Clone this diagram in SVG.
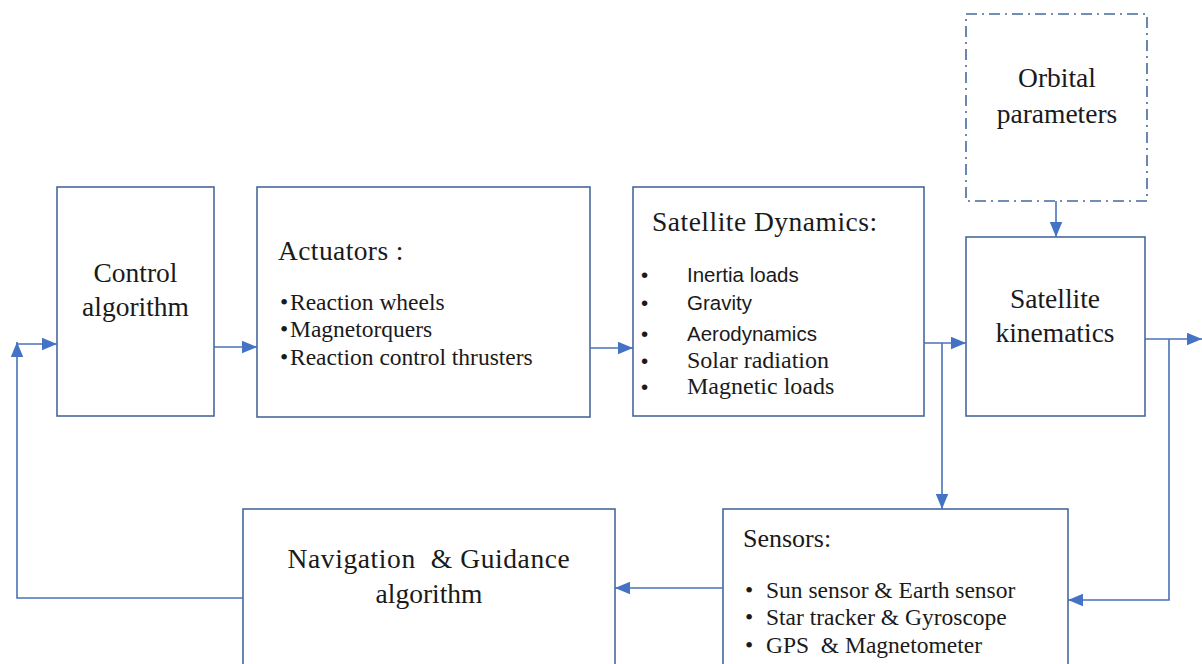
<svg xmlns="http://www.w3.org/2000/svg" width="1202" height="664" viewBox="0 0 1202 664">
<style>
.box{fill:#fff;stroke:#46699c;stroke-width:1.6}
.dash{fill:#fff;stroke:#46699c;stroke-width:1.6;stroke-dasharray:11 5 2 5}
.ln{fill:none;stroke:#4a72b8;stroke-width:1.6}
.t{font-family:"Liberation Serif","Times New Roman",serif;fill:#1a1a1a;white-space:pre}
.big{font-size:27.5px}
.mid{font-size:23.5px}
.sans{font-family:"Liberation Sans",Arial,sans-serif;font-size:20.5px;fill:#1a1a1a}
.c{text-anchor:middle}
</style>
<defs>
<marker id="ah" viewBox="0 0 12 10" refX="12" refY="5" markerWidth="15" markerHeight="13" markerUnits="userSpaceOnUse" orient="auto">
<path d="M0,0 L12,5 L0,10 z" fill="#4472c4"/>
</marker>
</defs>
<rect width="1202" height="664" fill="#fff"/>

<g id="control">
<rect class="box" x="57" y="187" width="157" height="229"/>
<text class="t big c" x="135.5" y="282">Control</text>
<text class="t big c" x="135.5" y="316">algorithm</text>
</g>

<g id="actuators">
<rect class="box" x="257" y="187" width="333" height="230"/>
<text class="t big" x="278" y="260" style="letter-spacing:0.4px">Actuators :</text>
<text class="t mid" x="280" y="310">•</text><text class="t mid" x="290" y="310">Reaction wheels</text>
<text class="t mid" x="280" y="337">•</text><text class="t mid" x="290" y="337">Magnetorquers</text>
<text class="t mid" x="280" y="365">•</text><text class="t mid" x="290" y="365">Reaction control thrusters</text>
</g>

<g id="dynamics">
<rect class="box" x="633" y="187" width="291" height="229"/>
<text class="t big" x="652" y="231" style="letter-spacing:0.5px">Satellite Dynamics:</text>
<text class="sans" x="641" y="282">•</text><text class="sans" x="687" y="282">Inertia loads</text>
<text class="sans" x="641" y="310">•</text><text class="sans" x="687" y="310">Gravity</text>
<text class="sans" x="641" y="341">•</text><text class="sans" x="687" y="341">Aerodynamics</text>
<text class="sans" x="641" y="368">•</text><text class="t" style="font-size:24px" x="687" y="368">Solar radiation</text>
<text class="sans" x="641" y="394">•</text><text class="t" style="font-size:24px" x="687" y="394">Magnetic loads</text>
</g>

<g id="orbital">
<rect class="dash" x="966" y="14" width="181" height="187"/>
<text class="t big c" x="1057" y="87">Orbital</text>
<text class="t big c" x="1057" y="123">parameters</text>
</g>

<g id="kinematics">
<rect class="box" x="966" y="237" width="179" height="179"/>
<text class="t big c" x="1055" y="308">Satellite</text>
<text class="t big c" x="1055" y="342">kinematics</text>
</g>

<g id="sensors">
<rect class="box" x="723" y="509" width="345" height="200"/>
<text class="t" style="font-size:26px" x="743" y="547">Sensors:</text>
<text class="t mid" x="745" y="598">•</text><text class="t mid" x="766" y="598">Sun sensor &amp; Earth sensor</text>
<text class="t mid" x="745" y="625">•</text><text class="t mid" x="766" y="625">Star tracker &amp; Gyroscope</text>
<text class="t mid" x="745" y="653">•</text><text class="t mid" x="766" y="653">GPS  &amp; Magnetometer</text>
</g>

<g id="navigation">
<rect class="box" x="243" y="509" width="372" height="200"/>
<text class="t big c" x="429" y="568" style="letter-spacing:0.6px">Navigation  &amp; Guidance</text>
<text class="t big c" x="429" y="603">algorithm</text>
</g>

<g id="connectors">
<path class="ln" d="M214,347 H257" marker-end="url(#ah)"/>
<path class="ln" d="M590,348 H633" marker-end="url(#ah)"/>
<path class="ln" d="M924,343 H966" marker-end="url(#ah)"/>
<path class="ln" d="M942,343 V509" marker-end="url(#ah)"/>
<path class="ln" d="M1056,201 V237" marker-end="url(#ah)"/>
<path class="ln" d="M1145,339 H1202" marker-end="url(#ah)"/>
<path class="ln" d="M1169,339 V600 H1068" marker-end="url(#ah)"/>
<path class="ln" d="M723,588 H615" marker-end="url(#ah)"/>
<path class="ln" d="M243,598 H17 V342" marker-end="url(#ah)"/>
<path class="ln" d="M17,344 H57" marker-end="url(#ah)"/>
</g>
</svg>
